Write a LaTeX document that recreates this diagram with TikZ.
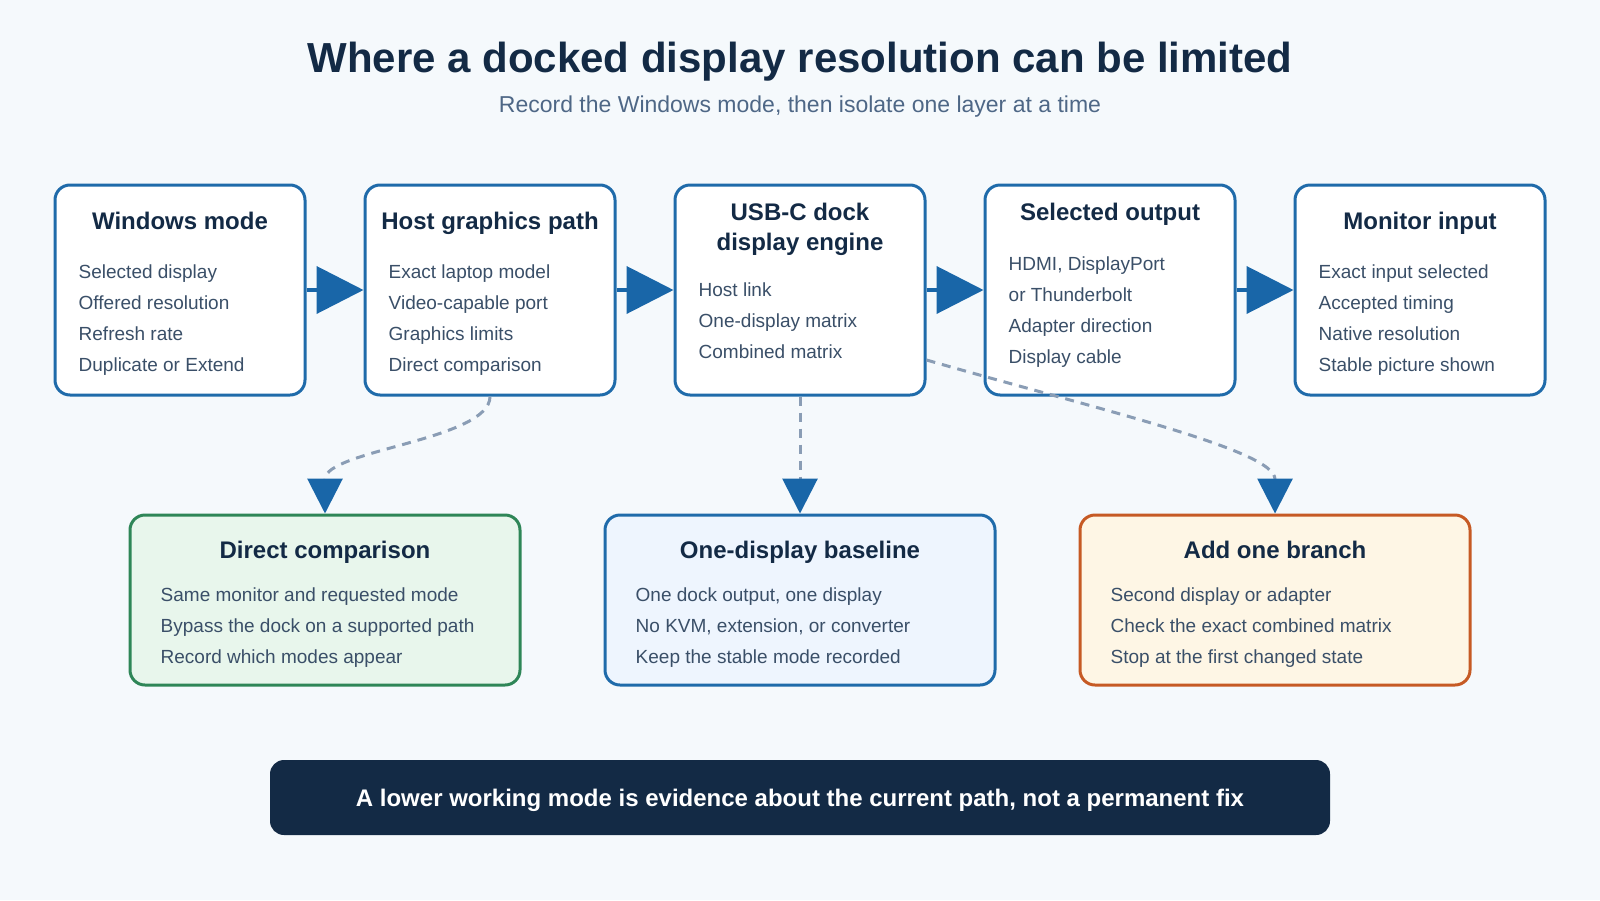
\documentclass[tikz,border=0pt]{standalone}
\usepackage{fontspec}
\setmainfont{Liberation Sans}
\usetikzlibrary{arrows.meta,positioning}
\definecolor{PageBg}{HTML}{F5F9FC}
\definecolor{NavyInk}{HTML}{132A45}
\definecolor{SlateInk}{HTML}{3A4F68}
\definecolor{SubInk}{HTML}{4E6786}
\definecolor{PathBlue}{HTML}{1F6BAA}
\definecolor{TipBlue}{HTML}{1966A8}
\definecolor{DashGray}{HTML}{8A9DB5}
\definecolor{LeafGreen}{HTML}{2E8657}
\definecolor{LeafGreenBg}{HTML}{E8F6EC}
\definecolor{BaseBlueBg}{HTML}{EEF5FE}
\definecolor{RustOrange}{HTML}{C65A24}
\definecolor{RustOrangeBg}{HTML}{FEF6E5}

\begin{document}
\begin{tikzpicture}[x=1pt,y=-1pt,
  box/.style={rectangle,draw=PathBlue,line width=3pt,rounded corners=15pt,fill=white,minimum width=250pt,minimum height=210pt,inner sep=0pt},
  leaf/.style={rectangle,line width=3pt,rounded corners=15pt,minimum width=390pt,minimum height=170pt,inner sep=0pt},
  head/.style={font=\fontsize{24}{30}\selectfont\bfseries,text=NavyInk,inner sep=0pt,anchor=base},
  item/.style={font=\fontsize{19}{23}\selectfont,text=SlateInk,inner sep=0pt,anchor=base west},
  flow/.style={-{Triangle[length=47pt,width=47pt]},line width=4pt,TipBlue},
  probe/.style={-{Triangle[length=35pt,width=35pt,color=TipBlue]},line width=3pt,DashGray,dash pattern=on 9pt off 7pt}
]
  \path[use as bounding box,fill=PageBg] (0,0) rectangle (1600,900);

  % title
  \node[font=\fontsize{42}{50}\selectfont\bfseries,text=NavyInk,inner sep=0pt,anchor=base] (title) at (800,72) {Where a docked display resolution can be limited};
  \node[font=\fontsize{23}{27}\selectfont,text=SubInk,inner sep=0pt,anchor=base] (subtitle) at (800,112) {Record the Windows mode, then isolate one layer at a time};

  % signal path
  \node[box] (win) at (180,290) {};
  \node[box] (host) at (490,290) {};
  \node[box] (dock) at (800,290) {};
  \node[box] (outp) at (1110,290) {};
  \node[box] (mon) at (1420,290) {};

  \node[head] (win-t) at (180,229.5) {Windows mode};
  \node[item] (win-1) at (78.5,278) {Selected display};
  \node[item] (win-2) at (78.5,309) {Offered resolution};
  \node[item] (win-3) at (78.5,340) {Refresh rate};
  \node[item] (win-4) at (78.5,371) {Duplicate or Extend};

  \node[head] (host-t) at (490,229.5) {Host graphics path};
  \node[item] (host-1) at (388.5,278) {Exact laptop model};
  \node[item] (host-2) at (388.5,309) {Video-capable port};
  \node[item] (host-3) at (388.5,340) {Graphics limits};
  \node[item] (host-4) at (388.5,371) {Direct comparison};

  \node[head,anchor=center,align=center] (dock-t) at (800,229) {USB-C dock\\display engine};
  \node[item] (dock-1) at (698.5,296) {Host link};
  \node[item] (dock-2) at (698.5,327) {One-display matrix};
  \node[item] (dock-3) at (698.5,358) {Combined matrix};

  \node[head] (outp-t) at (1110,220) {Selected output};
  \node[item] (outp-1) at (1008.5,270) {HDMI, DisplayPort};
  \node[item] (outp-2) at (1008.5,301) {or Thunderbolt};
  \node[item] (outp-3) at (1008.5,332) {Adapter direction};
  \node[item] (outp-4) at (1008.5,363) {Display cable};

  \node[head] (mon-t) at (1420,229.5) {Monitor input};
  \node[item] (mon-1) at (1318.5,278) {Exact input selected};
  \node[item] (mon-2) at (1318.5,309) {Accepted timing};
  \node[item] (mon-3) at (1318.5,340) {Native resolution};
  \node[item] (mon-4) at (1318.5,371) {Stable picture shown};

  \draw[flow] (win) -- (host);
  \draw[flow] (host) -- (dock);
  \draw[flow] (dock) -- (outp);
  \draw[flow] (outp) -- (mon);

  % isolation checks
  \node[leaf,draw=LeafGreen,fill=LeafGreenBg] (direct) at (325,600) {};
  \node[leaf,draw=PathBlue,fill=BaseBlueBg] (single) at (800,600) {};
  \node[leaf,draw=RustOrange,fill=RustOrangeBg] (branch) at (1275,600) {};

  \node[head] (direct-t) at (325,558) {Direct comparison};
  \node[item] (direct-1) at (160.5,601.5) {Same monitor and requested mode};
  \node[item] (direct-2) at (160.5,632) {Bypass the dock on a supported path};
  \node[item] (direct-3) at (160.5,663) {Record which modes appear};

  \node[head] (single-t) at (800,558) {One-display baseline};
  \node[item] (single-1) at (635.5,601.5) {One dock output, one display};
  \node[item] (single-2) at (635.5,632) {No KVM, extension, or converter};
  \node[item] (single-3) at (635.5,663) {Keep the stable mode recorded};

  \node[head] (branch-t) at (1275,558) {Add one branch};
  \node[item] (branch-1) at (1110.5,601.5) {Second display or adapter};
  \node[item] (branch-2) at (1110.5,632) {Check the exact combined matrix};
  \node[item] (branch-3) at (1110.5,663) {Stop at the first changed state};

  \draw[probe] (host.south) .. controls (490,440) and (325,450) .. (direct.north);
  \draw[probe] (dock.south) -- (single.north);
  \draw[probe] ([yshift=-70pt]dock.east) .. controls (1100,410) and (1275,450) .. (branch.north);

  % takeaway
  \node[fill=NavyInk,rounded corners=14pt,minimum width=1060pt,minimum height=75pt,inner sep=0pt,text depth=0pt,text=white,font=\fontsize{24}{28}\selectfont\bfseries] (note) at (800,797.5) {A lower working mode is evidence about the current path, not a permanent fix};
\end{tikzpicture}
\end{document}
